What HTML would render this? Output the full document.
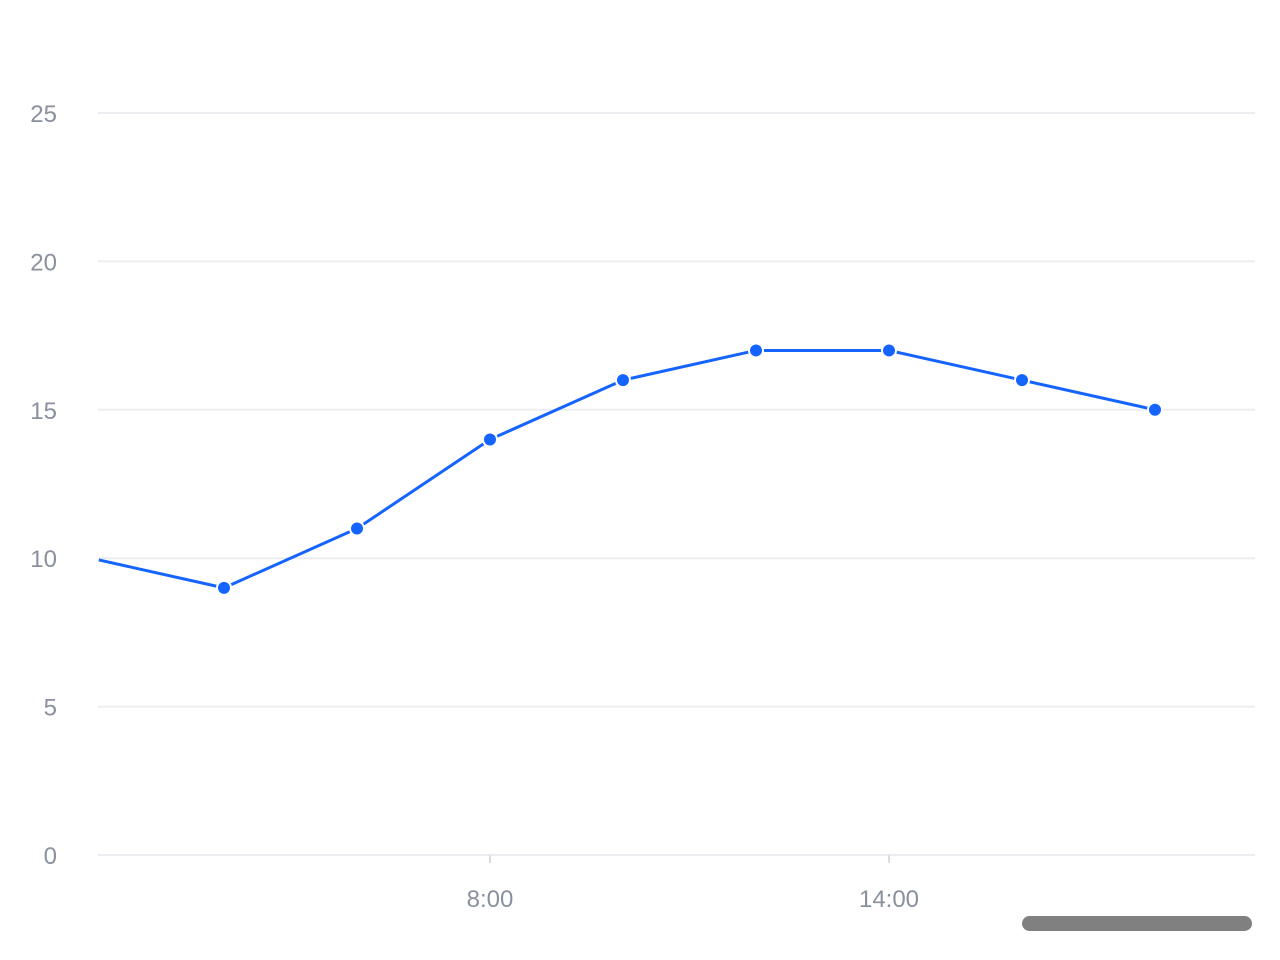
<!DOCTYPE html>
<html><head><meta charset="utf-8"><style>
html,body{margin:0;padding:0;background:#fff;}
svg{display:block;font-family:"Liberation Sans",sans-serif;}
</style></head><body>
<svg id="chart" width="1280" height="960">
<defs><clipPath id="plotclip"><rect x="98" y="0" width="1160" height="960"/></clipPath></defs>
<g id="grid"></g>
<g id="yticks"></g>
<g id="xticks"></g>
<g id="series" clip-path="url(#plotclip)"></g>
<rect x="1022" y="916" width="230" height="15" rx="7.5" fill="#808080"/>
</svg>
<script>
const hours = [2, 4, 6, 8, 10, 12, 14, 16, 18];
const values = [10, 9, 11, 14, 16, 17, 17, 16, 15];
const yTicks = [0, 5, 10, 15, 20, 25];
const xTickHours = [8, 14];
const xTickLabels = ["8:00", "14:00"];

const NS = "http://www.w3.org/2000/svg";
const x0 = 98, x1 = 1255;
function xs(h){ return 490 + (h - 8) * 66.5; }
function ys(v){ return 855 - v * (742 / 25); }
function mk(tag, attrs, parent){
  const e = document.createElementNS(NS, tag);
  for (const k in attrs) e.setAttribute(k, attrs[k]);
  parent.appendChild(e); return e;
}
const grid = document.getElementById('grid');
const yg = document.getElementById('yticks');
yTicks.forEach(t => {
  const l = mk('line', {x1:x0, x2:x1, y1:ys(t), y2:ys(t), stroke:'#ebedf0', 'stroke-width':2}, grid);
  
  
  const tx = mk('text', {x:57, y:ys(t)+9, 'text-anchor':'end', 'font-size':24, fill:'#89909e'}, yg);
  tx.textContent = t;
  
  
});
const xg = document.getElementById('xticks');
xTickHours.forEach((h, i) => {
  const tk = mk('line', {x1:xs(h), x2:xs(h), y1:855, y2:863, stroke:'#d9dce1', 'stroke-width':2}, xg);
  
  
  const tx = mk('text', {x:xs(h), y:907, 'text-anchor':'middle', 'font-size':24, fill:'#89909e'}, xg);
  tx.textContent = xTickLabels[i];
  
  
});
const sg = document.getElementById('series');
const pts = hours.map((h, i) => xs(h) + ',' + ys(values[i])).join(' ');
const pl = mk('polyline', {points:pts, fill:'none', stroke:'#1664ff', 'stroke-width':3, 'stroke-linejoin':'round'}, sg);


hours.forEach((h, i) => {
  const c = mk('circle', {cx:xs(h), cy:ys(values[i]), r:7, fill:'#1664ff', stroke:'#fff', 'stroke-width':2}, sg);
  
  
});
</script>
</body></html>
